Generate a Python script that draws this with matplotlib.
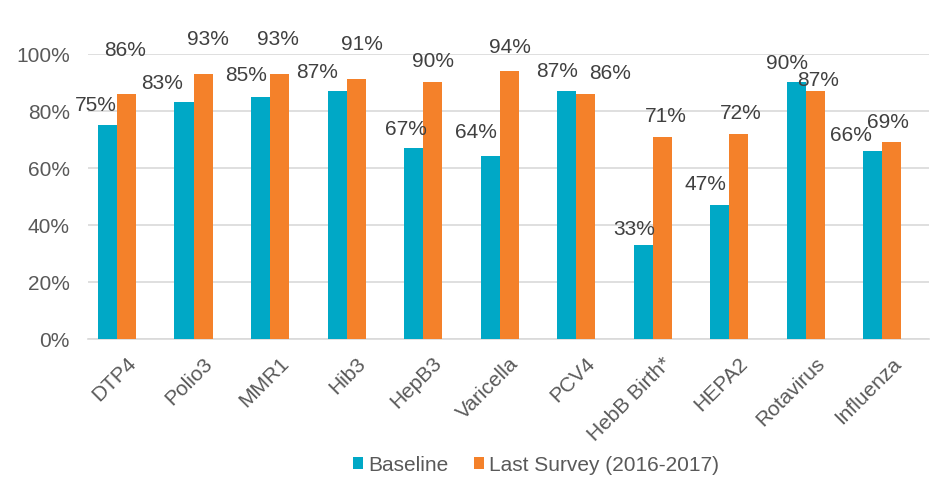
import matplotlib
matplotlib.use("Agg")
import matplotlib.pyplot as plt
import matplotlib.transforms as mtransforms
import numpy as np

# vaccine coverage, baseline vs last survey
categories = ['DTP4', 'Polio3', 'MMR1', 'Hib3', 'HepB3', 'Varicella', 'PCV4',
              'HebB Birth*', 'HEPA2', 'Rotavirus', 'Influenza']
baseline = [75, 83, 85, 87, 67, 64, 87, 33, 47, 90, 66]
last_survey = [86, 93, 93, 91, 90, 94, 86, 71, 72, 87, 69]

# label nudges in pixels (Excel placed them a bit all over the place)
base_off = [(-12, 21), (-22, 20), (-14, 22), (-20, 19), (-8, 19), (-14, 25),
            (-10, 20), (-9, 16), (-14, 21), (-9, 20), (-22, 16)]
last_off = [(-2, 44), (5, 35), (-2, 35), (6, 36), (0, 22), (1, 24),
            (24, 21), (3, 21), (2, 21), (3, 11), (-4, 21)]

blue = '#00A8C6'
orange = '#F4812A'
text_col = '#595959'
fs = 15

plt.rcParams['font.family'] = ['Liberation Sans', 'DejaVu Sans']

fig = plt.figure(figsize=(9.36, 4.85), dpi=100)
ax = fig.add_axes([88 / 936, 0.299, 841 / 936, 0.588])

x = np.arange(len(categories))
w = 0.25
b1 = ax.bar(x - w / 2, np.array(baseline) / 100, w, color=blue, label='Baseline', zorder=3)
b2 = ax.bar(x + w / 2, np.array(last_survey) / 100, w, color=orange,
            label='Last Survey (2016-2017)', zorder=3)

for rect, v, off in zip(b1, baseline, base_off):
    ax.annotate(f'{v}%', (rect.get_x() + rect.get_width() / 2, rect.get_height()),
                xytext=off, textcoords='offset pixels', ha='center', va='center',
                fontsize=fs, color='#404040', annotation_clip=False, zorder=5)
for rect, v, off in zip(b2, last_survey, last_off):
    ax.annotate(f'{v}%', (rect.get_x() + rect.get_width() / 2, rect.get_height()),
                xytext=off, textcoords='offset pixels', ha='center', va='center',
                fontsize=fs, color='#404040', annotation_clip=False, zorder=5)

ax.set_xlim(-0.38, 10.61)
ax.set_ylim(0, 1.0)
ax.set_yticks(np.arange(0, 1.01, 0.2))
ax.set_yticklabels([f'{int(round(t * 100))}%' for t in np.arange(0, 1.01, 0.2)])
ax.set_xticks(x)
ax.set_xticklabels(categories, rotation=45, ha='right', rotation_mode='anchor')
ax.tick_params(axis='both', length=0, labelsize=fs, colors=text_col)
ax.tick_params(axis='y', pad=13)
ax.tick_params(axis='x', pad=10)
shift = mtransforms.ScaledTranslation(0.09, 0, fig.dpi_scale_trans)
for lab in ax.get_xticklabels():
    lab.set_transform(lab.get_transform() + shift)

ax.grid(axis='y', color='#D9D9D9', linewidth=1.2, zorder=0)
for s in ['top', 'right', 'left']:
    ax.spines[s].set_visible(False)
ax.spines['bottom'].set_color('#D9D9D9')
ax.spines['bottom'].set_linewidth(1.2)

fig.legend(handles=[b1, b2], loc='center', bbox_to_anchor=(536 / 936, 0.04), ncol=2,
           frameon=False, fontsize=fs, labelcolor=text_col, handlelength=0.5,
           handleheight=0.5, handletextpad=0.25, columnspacing=1.2)

fig.savefig('out.png', dpi=100)
